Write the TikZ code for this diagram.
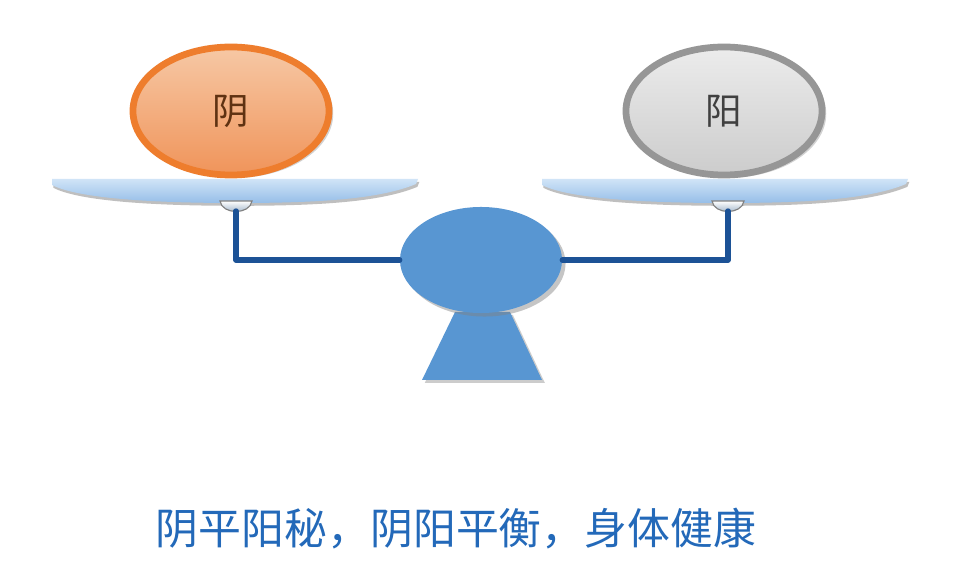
\documentclass[tikz,border=0pt]{standalone}
\usepackage{fontspec}
\usepackage{xcolor}
\usetikzlibrary{shapes.geometric,shadows}
\newfontfamily\cjk{Noto Sans CJK SC}

\definecolor{yinorange}{RGB}{238,125,45}
\definecolor{yinlight}{RGB}{246,200,165}
\definecolor{yindark}{RGB}{240,148,90}
\definecolor{yanggrey}{RGB}{150,150,150}
\definecolor{yanglight}{RGB}{236,236,236}
\definecolor{yangdark}{RGB}{204,204,204}
\definecolor{traytop}{RGB}{208,228,247}
\definecolor{traybot}{RGB}{150,190,232}
\definecolor{pivotblue}{RGB}{88,150,210}
\definecolor{beamblue}{RGB}{28,82,150}
\definecolor{mottoblue}{RGB}{35,105,185}

\tikzset{
    weight/.style={ellipse, inner sep=0pt, line width=4.8pt,
        minimum width=4.9cm, minimum height=3.2cm,
        font=\cjk\fontsize{26}{30}\selectfont,
        drop shadow={shadow xshift=3pt, shadow yshift=-2pt, opacity=.35}},
    tray/.style={top color=traytop, bottom color=traybot, draw=none,
        drop shadow={shadow xshift=1pt, shadow yshift=-2pt, opacity=.5}},
    cup/.style={top color=white, bottom color=traybot!60!gray, draw=gray, line width=0.8pt},
    beam/.style={draw=beamblue, line width=3.8pt, line cap=round, line join=round}
}

\begin{document}
\begin{tikzpicture}[x=0.025cm, y=-0.025cm]
\useasboundingbox[fill=white] (0,0) rectangle (959,569);

% 1. Stand
\fill[pivotblue, drop shadow={shadow xshift=2pt, shadow yshift=-2pt, opacity=.4}]
    (455,312) -- (510,312) -- (542,380) -- (422,380) -- cycle;
\node[ellipse, fill=pivotblue, inner sep=0pt, minimum width=4.05cm, minimum height=2.65cm,
    drop shadow={shadow xshift=2.5pt, shadow yshift=-2.5pt, opacity=.45}]
    (pivot) at (481,260) {};

% 2. Trays
\path[tray] (52,179) -- (418,179) -- (416,184)
    .. controls (380,199) and (320,203) .. (236,203)
    .. controls (140,203) and (75,197) .. (52,185) -- cycle;
\path[tray, shift={(490,0)}] (52,179) -- (418,179) -- (416,184)
    .. controls (380,199) and (320,203) .. (236,203)
    .. controls (140,203) and (75,197) .. (52,185) -- cycle;
\draw[cup] (220,201) .. controls (222,215) and (250,215) .. (252,201) -- cycle;
\draw[cup] (712,201) .. controls (714,215) and (742,215) .. (744,201) -- cycle;
\coordinate (lcup) at (236,211);
\coordinate (rcup) at (728,211);

% 3. Beam
\draw[beam] (lcup) |- (pivot.west);
\draw[beam] (rcup) |- (pivot.east);

% 4. Weights
\node[weight, draw=yinorange, top color=yinlight, bottom color=yindark,
    text=yinorange!40!black] (yin) at (231,111) {阴};
\node[weight, draw=yanggrey, top color=yanglight, bottom color=yangdark,
    text=black!75] (yang) at (724,111) {阳};

% 5. Motto
\node[font=\cjk\fontsize{30.5}{34}\selectfont, text=mottoblue] (motto) at (456,529)
    {阴平阳秘，阴阳平衡，身体健康};
\end{tikzpicture}
\end{document}
